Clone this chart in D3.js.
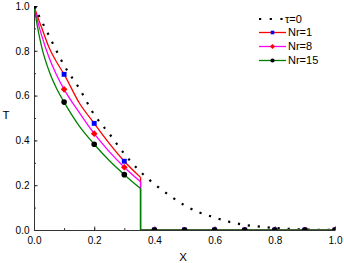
<!DOCTYPE html>
<html>
<head>
<meta charset="utf-8">
<script src="https://cdn.jsdelivr.net/npm/d3@7"></script>
<style>
  body { margin: 0; background: #fff; }
  text { font-family: "Liberation Sans", Arial, sans-serif; fill: #000; }
</style>
</head>
<body>
<svg id="chart" width="344" height="263"></svg>
<script>
// tau = 0 initial profile
const tau0X = [0, 0.05, 0.1, 0.15, 0.2, 0.25, 0.3, 0.35, 0.4, 0.45, 0.5, 0.55, 0.6, 0.65, 0.7, 0.75, 0.8, 0.85, 0.9, 0.95, 1.0];
const tau0T = [1.0, 0.867, 0.735, 0.633, 0.515, 0.43, 0.34, 0.265, 0.205, 0.155, 0.11, 0.078, 0.056, 0.036, 0.023, 0.015, 0.009, 0.005, 0.002, 0.001, 0];

// smooth part of the Nr curves, up to the front
const curveX = [0, 0.0125, 0.025, 0.05, 0.075, 0.1, 0.15, 0.2, 0.25, 0.3, 0.354];
const nr1T  = [1.0, 0.95, 0.905, 0.815, 0.75, 0.695, 0.568, 0.476, 0.387, 0.307, 0.235];
const nr8T  = [1.0, 0.93, 0.87, 0.77, 0.692, 0.628, 0.525, 0.43, 0.35, 0.28, 0.215];
const nr15T = [1.0, 0.9, 0.82, 0.71, 0.632, 0.571, 0.465, 0.383, 0.31, 0.247, 0.185];
const frontX = 0.354;

// symbols
const markX = [0, 0.1, 0.2, 0.3, 0.4, 0.5, 0.6, 0.7, 0.8, 0.9, 1.0];
const nr1Marks  = [1.0, 0.695, 0.476, 0.307, 0, 0, 0, 0, 0, 0, 0];
const nr8Marks  = [1.0, 0.628, 0.43, 0.28, 0, 0, 0, 0, 0, 0, 0];
const nr15Marks = [1.0, 0.571, 0.383, 0.247, 0, 0, 0, 0, 0, 0, 0];

const yTicks = [0, 0.2, 0.4, 0.6, 0.8, 1.0];
const xTicks = [0, 0.2, 0.4, 0.6, 0.8, 1.0];

const svg = d3.select("#chart");

const x = d3.scaleLinear().domain([0, 1]).range([34, 335]);
const y = d3.scaleLinear().domain([0, 1]).range([230, 6]);

svg.append("defs").append("clipPath").attr("id", "plotClip")
  .append("rect")
  .attr("x", x(0)).attr("y", y(1))
  .attr("width", x(1) - x(0)).attr("height", y(0) - y(1));

// axes
const minor = d3.range(0, 1.0001, 0.1);

svg.append("g")
  .attr("transform", `translate(0,${y(0)})`)
  .call(d3.axisBottom(x).tickValues(minor).tickSize(-2).tickFormat(""))
  .call(g => g.select(".domain").remove())
  .selectAll("line").attr("stroke", "#333");

svg.append("g")
  .attr("transform", `translate(${x(0)},0)`)
  .call(d3.axisLeft(y).tickValues(minor).tickSize(-2).tickFormat(""))
  .call(g => g.select(".domain").remove())
  .selectAll("line").attr("stroke", "#333");

const xAxis = svg.append("g")
  .attr("transform", `translate(0,${y(0)})`)
  .call(d3.axisBottom(x).tickValues(xTicks).tickSizeInner(-3.5).tickSizeOuter(0)
    .tickPadding(6.5).tickFormat(d3.format(".1f")));

const yAxis = svg.append("g")
  .attr("transform", `translate(${x(0)},0)`)
  .call(d3.axisLeft(y).tickValues(yTicks).tickSizeInner(-3.5).tickSizeOuter(0)
    .tickPadding(4.5).tickFormat(d3.format(".1f")));

[xAxis, yAxis].forEach(a => {
  a.select(".domain").attr("stroke", "#333").attr("stroke-width", 1);
  a.selectAll("line").attr("stroke", "#333");
  a.selectAll("text").style("font-size", "10px").attr("fill", "#000");
});

svg.append("text").attr("x", 183).attr("y", 260.5).attr("text-anchor", "middle")
  .style("font-size", "11.5px").text("X");
svg.append("text").attr("x", 6).attr("y", 118.5).attr("text-anchor", "middle")
  .style("font-size", "11.5px").text("T");

// series
const plot = svg.append("g").attr("clip-path", "url(#plotClip)");

const line = d3.line().x(d => x(d[0])).y(d => y(d[1]));
const smooth = d3.line().x(d => x(d[0])).y(d => y(d[1])).curve(d3.curveMonotoneX);

plot.append("path")
  .attr("d", smooth(d3.zip(tau0X, tau0T)))
  .attr("fill", "none").attr("stroke", "#000")
  .attr("stroke-width", 2.2).attr("stroke-dasharray", "2.2,7.8");

const series = [
  { name: "Nr=1",  t: nr1T,  marks: nr1Marks,  color: "#ff0000", mcolor: "#0000ff", shape: d3.symbolSquare, rot: 0,  size: 24, lsize: 13 },
  { name: "Nr=8",  t: nr8T,  marks: nr8Marks,  color: "#ff00ff", mcolor: "#ff0000", shape: d3.symbolSquare, rot: 45, size: 22, lsize: 13 },
  { name: "Nr=15", t: nr15T, marks: nr15Marks, color: "#008000", mcolor: "#000000", shape: d3.symbolCircle, rot: 0,  size: 25, lsize: 14 }
];

series.forEach(s => {
  plot.append("path")
    .attr("d", smooth(d3.zip(curveX, s.t)))
    .attr("fill", "none").attr("stroke", s.color).attr("stroke-width", 1.3);
  const tEnd = s.t[s.t.length - 1];
  plot.append("path")
    .attr("d", line([[frontX, tEnd], [frontX, 0], [1, 0]]))
    .attr("fill", "none").attr("stroke", s.color).attr("stroke-width", 1.3);
  plot.selectAll(null)
    .data(d3.zip(markX, s.marks))
    .join("path")
    .attr("transform", d => `translate(${x(d[0])},${y(d[1])}) rotate(${s.rot})`)
    .attr("d", d3.symbol(s.shape, s.size))
    .attr("fill", s.mcolor);
});

// legend
const legend = svg.append("g");
const legX0 = 259, legX1 = 286, textX = 288;
const legY = [19, 32.5, 46.5, 60.5];

legend.append("line")
  .attr("x1", legX0).attr("x2", legX1)
  .attr("y1", legY[0]).attr("y2", legY[0])
  .attr("stroke", "#000").attr("stroke-width", 2.2).attr("stroke-dasharray", "2.2,8.5");
legend.append("text").attr("x", 285).attr("y", legY[0]).attr("dy", "0.35em")
  .style("font-size", "11px").text("τ=0");

series.forEach((s, i) => {
  const yy = legY[i + 1];
  legend.append("line")
    .attr("x1", legX0).attr("x2", legX1)
    .attr("y1", yy).attr("y2", yy)
    .attr("stroke", s.color).attr("stroke-width", 1.3);
  legend.append("path")
    .attr("transform", `translate(${(legX0 + legX1) / 2},${yy}) rotate(${s.rot})`)
    .attr("d", d3.symbol(s.shape, s.lsize))
    .attr("fill", s.mcolor);
  legend.append("text").attr("x", textX).attr("y", yy).attr("dy", "0.35em")
    .style("font-size", "11px").text(s.name);
});
</script>
</body>
</html>
